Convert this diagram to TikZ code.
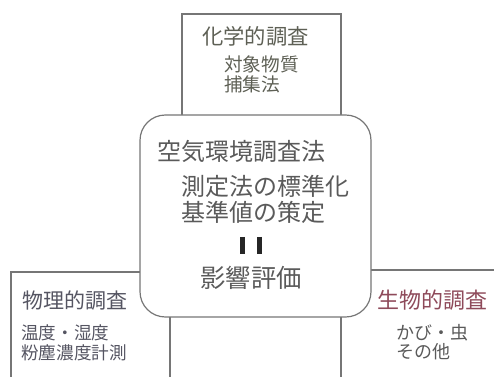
\documentclass[tikz,border=0pt]{standalone}
\usepackage{fontspec}
\newfontfamily\jp{Noto Sans CJK JP}
\definecolor{edge}{HTML}{767676}
\definecolor{txt}{HTML}{5A5A5A}
\definecolor{toptxt}{HTML}{5E6055}
\definecolor{lefttxt}{HTML}{555562}
\definecolor{bio}{HTML}{8E4A5A}
\begin{document}
\begin{tikzpicture}[x=0.75pt,y=-0.75pt,
  boxline/.style={draw=edge,line width=0.9pt},
  lbl/.style={anchor=west,inner sep=0pt,font=\jp},
  sz/.style={font=\jp\fontsize{#1}{#1}\selectfont}]
\useasboundingbox (0,0) rectangle (494,377);
% surrounding boxes
\draw[boxline] (182,200) -- (182,14) -- (341,14) -- (341,200);
\draw[boxline] (11,377) -- (11,272) -- (170,272) -- (170,377);
\draw[boxline] (494,270) -- (341,270) -- (341,377);
% central box
\node[boxline,fill=white,rounded corners=19pt,minimum width=231*0.75pt,minimum height=202*0.75pt,inner sep=0pt] (center) at (255.5,216) {};
% top box texts
\node[lbl,sz=16,text=toptxt] (t1) at (202,36) {化学的調査};
\node[lbl,sz=14,text=toptxt] (t2) at (224,64) {対象物質};
\node[lbl,sz=14,text=toptxt] (t3) at (224,84) {捕集法};
% central texts
\node[lbl,sz=18,text=txt] (c1) at (157,151) {空気環境調査法};
\node[lbl,sz=18,text=txt] (c2) at (181,186) {測定法の標準化};
\node[lbl,sz=18,text=txt] (c3) at (181,212) {基準値の策定};
\draw[line width=3.6pt,black!85] (242.5,237) -- (242.5,254);
\draw[line width=3.6pt,black!85] (259.5,237) -- (259.5,254);
\node[lbl,sz=19,text=txt,anchor=center] (c4) at (251,278) {影響評価};
% left box texts
\node[lbl,sz=15.75,text=lefttxt] (l1) at (22,301) {物理的調査};
\node[lbl,sz=13.2,text=lefttxt] (l2) at (21,333) {温度・湿度};
\node[lbl,sz=13.2,text=lefttxt] (l3) at (21,353) {粉塵濃度計測};
% right box texts
\node[lbl,sz=16.5,text=bio] (r1) at (377,300) {生物的調査};
\node[lbl,sz=13.5,text=txt] (r2) at (396,333) {かび・虫};
\node[lbl,sz=13.5,text=txt] (r3) at (396,352) {その他};
\end{tikzpicture}
\end{document}
